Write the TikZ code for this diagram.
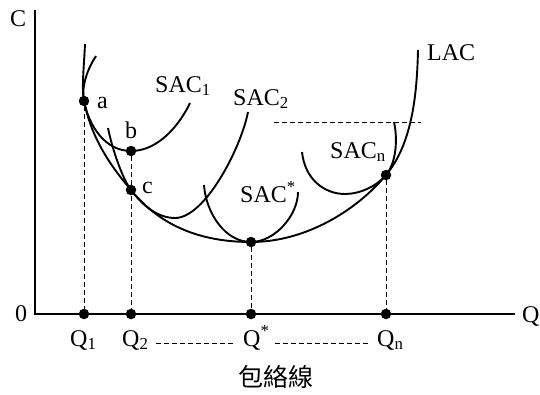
\documentclass[tikz,border=0pt]{standalone}
\usepackage{fontspec}
\setmainfont{Liberation Serif}
\newfontfamily\cjk{Noto Sans CJK TC}
\usepackage{tikz}
\usetikzlibrary{positioning}
\newcommand{\lblfont}{\fontsize{24}{28}\selectfont}
\tikzset{
  crv/.style={line width=1.9pt,black},
  axl/.style={line width=1.1pt,black},
  drop/.style={line width=1pt,dash pattern=on 5pt off 3pt},
  dot/.style={circle,fill=black,inner sep=0pt,minimum size=10.5pt},
  lbl/.style={font=\lblfont,inner sep=0pt}
}

\begin{document}
\begin{tikzpicture}[x=1pt,y=-1pt]
\useasboundingbox (0,0) rectangle (540,394);
\coordinate (o) at (35,314);
\coordinate (ytop) at (35,10);
\coordinate (xend) at (515,314);
\coordinate (hl) at (274,122);
\coordinate (hr) at (421,122);
\draw[axl] (ytop) -- (o) -- (xend);
\node[dot] (pa) at (84,101) {};
\node[dot] (pb) at (131,151) {};
\node[dot] (pc) at (131,190) {};
\node[dot] (pm) at (251,242) {};
\node[dot] (pn) at (386,175) {};
\node[dot] (q1) at (84,314) {};
\node[dot] (q2) at (131,314) {};
\node[dot] (qs) at (251,314) {};
\node[dot] (qn) at (386,314) {};
\draw[crv] (85,44) .. controls (84,66) and (81.5,88.5) .. (pa.center)
  .. controls (91,136) and (108,163) .. (pc.center)
  .. controls (157,222) and (195,242) .. (pm.center)
  .. controls (306,242) and (357,210) .. (pn.center)
  .. controls (412,144) and (417,95) .. (418,50);
\draw[crv] (96,56) .. controls (88,68) and (81,86) .. (pa.center)
  .. controls (89,126) and (105,151) .. (pb.center)
  .. controls (160,151) and (181,122) .. (190,103);
\draw[crv] (108,128) .. controls (112,148) and (122,178) .. (pc.center)
  .. controls (143,206) and (158,218) .. (175,218)
  .. controls (205,218) and (241,148) .. (248,112);
\draw[crv] (204,185) .. controls (206,213) and (225,242) .. (pm.center)
  .. controls (275,242) and (298,215) .. (298,192);
\draw[crv] (302,152) .. controls (305,180) and (325,194) .. (345,194)
  .. controls (360,194) and (377,186) .. (pn.center)
  .. controls (396,163) and (398,140) .. (394,122);
\draw[drop] (pa) -- (q1);
\draw[drop] (pb) -- (q2);
\draw[drop] (pm) -- (qs);
\draw[drop] (pn) -- (qn);
\draw[drop] (hl) -- (hr);
\node[lbl,anchor=base west] (lc) at (10,26) {C};
\node[lbl,anchor=base west] (l0) at (15,321) {0};
\node[lbl,anchor=base west] (lq) at (522,322) {Q};
\node[lbl,anchor=base west] (la) at (97,108) {a};
\node[lbl,anchor=base west] (lb) at (125,138) {b};
\node[lbl,anchor=base west] (lcc) at (142,193) {c};
\node[lbl,anchor=base west] (sac1) at (155,92) {SAC\textsubscript{1}};
\node[lbl,anchor=base west] (sac2) at (233,105) {SAC\textsubscript{2}};
\node[lbl,anchor=base west] (sacs) at (240,202) {SAC\textsuperscript{*}};
\node[lbl,anchor=base west] (sacn) at (330,158) {SAC\textsubscript{n}};
\node[lbl,anchor=base west] (lac) at (427,60) {LAC};
\node[lbl,anchor=base west] (q1lab) at (70,346) {Q\textsubscript{1}};
\node[lbl,anchor=base west] (q2lab) at (122,346) {Q\textsubscript{2}};
\node[lbl,anchor=base west] (qslab) at (243,346) {Q\textsuperscript{*}};
\node[lbl,anchor=base west] (qnlab) at (377,346) {Q\textsubscript{n}};
\draw[drop,shorten <=7pt,shorten >=9pt] (q2lab.mid east) -- (qslab.mid west);
\draw[drop,shorten <=5pt,shorten >=9pt] (qslab.mid east) -- (qnlab.mid west);
\node[font=\cjk\fontsize{25}{30}\selectfont] (cap) at (276,377) {包絡線};
\end{tikzpicture}
\end{document}
